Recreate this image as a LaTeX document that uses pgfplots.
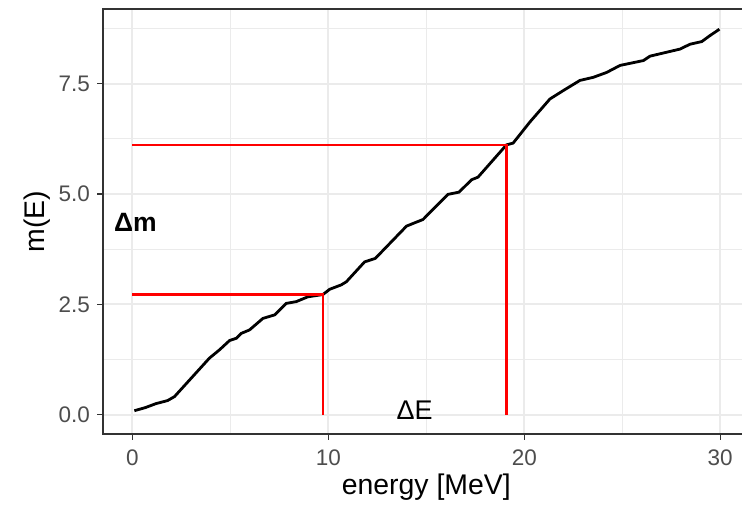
\documentclass[border=0pt]{standalone}
\usepackage{pgfplots}
\pgfplotsset{compat=1.18}
\usepackage{fontspec}
\setmainfont{Liberation Sans}
\definecolor{gridc}{HTML}{EBEBEB}
\definecolor{tickc}{HTML}{333333}
\definecolor{labc}{HTML}{4D4D4D}
\begin{document}
\begin{tikzpicture}
\begin{axis}[
  at={(103bp,74bp)}, anchor=south west,
  scale only axis, width=646.6bp, height=425bp,
  xmin=-1.5, xmax=31.5, ymin=-0.4375, ymax=9.1875,
  xtick={0,10,20,30}, xticklabels={0,10,20,30},
  ytick={0,2.5,5,7.5}, yticklabels={0.0,2.5,5.0,7.5},
  minor xtick={5,15,25}, minor ytick={1.25,3.75,6.25,8.75},
  xtick pos=bottom, ytick pos=left,
  grid=both,
  major grid style={gridc, line width=2bp},
  minor grid style={gridc, line width=1.1bp},
  tick align=outside, major tick length=5.5bp, minor tick length=0pt,
  tick style={tickc, line width=1.2bp},
  axis line style={tickc, line width=1.2bp},
  ticklabel style={font=\fontsize{22.5bp}{26bp}\selectfont, text=labc},
  yticklabel style={xshift=-4bp},
  xticklabel style={yshift=-7bp},
  xlabel={energy [MeV]}, ylabel={m(E)},
  label style={font=\fontsize{28.4bp}{32bp}\selectfont, text=black},
  xlabel style={at={(axis description cs:0.5,-0.1247)}, anchor=center},
  ylabel style={at={(axis description cs:-0.1013,0.5)}, anchor=center},
]
\addplot[black, line width=2.8bp] coordinates {
(0.1,0.09) (0.66,0.16) (1.2,0.25) (1.8,0.32) (2.15,0.41)
(3.93,1.28) (4.45,1.47) (4.96,1.68) (5.3,1.73) (5.55,1.84) (5.98,1.92)
(6.66,2.18) (7.26,2.26) (7.85,2.52) (8.36,2.56) (8.96,2.67) (9.72,2.72)
(10.07,2.84) (10.66,2.94) (10.92,3.01) (11.85,3.46) (12.4,3.54)
(13.99,4.27) (14.32,4.33) (14.83,4.42) (16.11,4.99) (16.67,5.04)
(17.31,5.32) (17.64,5.38) (19.09,6.11) (19.43,6.15) (20.29,6.63)
(21.31,7.15) (21.99,7.34) (22.84,7.57) (23.52,7.64) (24.2,7.75)
(24.89,7.91) (26.08,8.02) (26.42,8.12) (27.95,8.28) (28.46,8.39)
(29.06,8.45) (29.46,8.58) (29.96,8.73)
};
\addplot[red, line width=2.5bp] coordinates {(0,2.72) (9.72,2.72) (9.72,0)};
\addplot[red, line width=2.5bp] coordinates {(0,6.11) (19.09,6.11) (19.09,0)};
\node[font=\fontsize{26.5bp}{30bp}\selectfont\bfseries] at (axis cs:0.15,4.36) {Δm};
\node[font=\fontsize{27bp}{30bp}\selectfont] at (axis cs:14.4,0.11) {ΔE};
\end{axis}
\pgfresetboundingbox
\useasboundingbox (0,0) rectangle (742bp,508bp);
\end{tikzpicture}
\end{document}
